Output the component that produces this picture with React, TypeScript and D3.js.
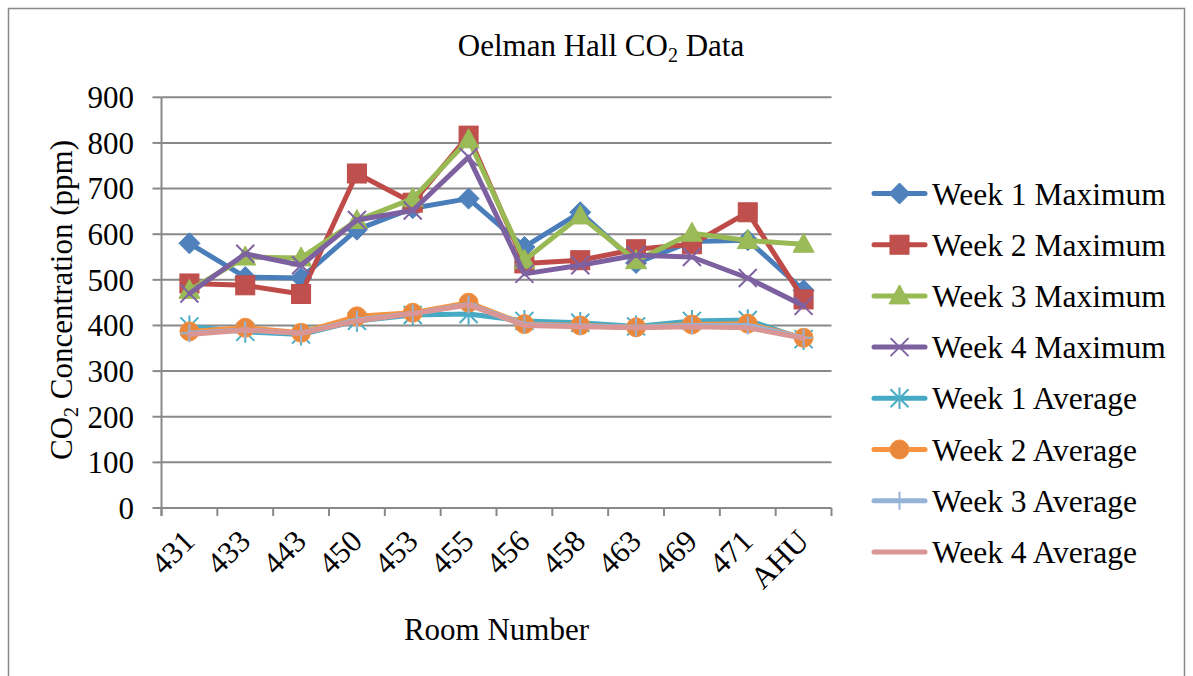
import { useEffect, useRef } from "react";
import * as d3 from "d3";

const rooms = ["431", "433", "443", "450", "453", "455", "456", "458", "463", "469", "471", "AHU"];
const yTicks = [0, 100, 200, 300, 400, 500, 600, 700, 800, 900];

const week1Max = [580, 506, 504, 610, 657, 678, 572, 648, 537, 584, 587, 477];
const week2Max = [492, 488, 469, 733, 669, 816, 536, 543, 567, 578, 648, 457];
const week3Max = [477, 550, 548, 630, 678, 807, 543, 640, 542, 602, 586, 578];
const week4Max = [470, 557, 532, 631, 652, 769, 513, 532, 554, 550, 504, 443];
const week1Avg = [398, 386, 380, 410, 423, 425, 410, 406, 398, 410, 412, 370];
const week2Avg = [387, 395, 384, 420, 428, 450, 403, 400, 396, 402, 404, 373];
const week3Avg = [383, 390, 383, 412, 426, 446, 402, 399, 396, 400, 400, 373];
const week4Avg = [380, 390, 383, 410, 426, 445, 400, 397, 395, 397, 395, 372];

type Marker = "diamond" | "square" | "triangle" | "x" | "star" | "circle" | "plus" | "none";

const series: { name: string; values: number[]; line: string; fill: string; marker: Marker }[] = [
  { name: "Week 1 Maximum", values: week1Max, line: "#4A7EBB", fill: "#4F81BD", marker: "diamond" },
  { name: "Week 2 Maximum", values: week2Max, line: "#BE4B48", fill: "#C0504D", marker: "square" },
  { name: "Week 3 Maximum", values: week3Max, line: "#98B954", fill: "#9BBB59", marker: "triangle" },
  { name: "Week 4 Maximum", values: week4Max, line: "#7D60A0", fill: "#8064A2", marker: "x" },
  { name: "Week 1 Average", values: week1Avg, line: "#46AAC5", fill: "#4BACC6", marker: "star" },
  { name: "Week 2 Average", values: week2Avg, line: "#F69240", fill: "#E9883C", marker: "circle" },
  { name: "Week 3 Average", values: week3Avg, line: "#95B3D7", fill: "#95B3D7", marker: "plus" },
  { name: "Week 4 Average", values: week4Avg, line: "#D99694", fill: "#D99694", marker: "none" },
];

const FONT = "'Liberation Serif', 'Times New Roman', serif";
const GRID = "#898989";

function drawMarker(g: any, kind: Marker, x: number, y: number, line: string, fill: string) {
  if (kind === "diamond") {
    const r = 10.5;
    g.append("path")
      .attr("d", `M${x},${y - r}L${x + r},${y}L${x},${y + r}L${x - r},${y}Z`)
      .attr("fill", fill).attr("stroke", line).attr("stroke-width", 1);
  } else if (kind === "square") {
    const s = 9.5;
    g.append("rect").attr("x", x - s).attr("y", y - s).attr("width", s * 2).attr("height", s * 2)
      .attr("fill", fill).attr("stroke", line).attr("stroke-width", 1);
  } else if (kind === "triangle") {
    g.append("path")
      .attr("d", `M${x},${y - 11}L${x + 10.5},${y + 8}L${x - 10.5},${y + 8}Z`)
      .attr("fill", fill).attr("stroke", line).attr("stroke-width", 1);
  } else if (kind === "circle") {
    g.append("circle").attr("cx", x).attr("cy", y).attr("r", 9.5)
      .attr("fill", fill).attr("stroke", line).attr("stroke-width", 1);
  } else if (kind === "x") {
    const r = 9;
    g.append("path")
      .attr("d", `M${x - r},${y - r}L${x + r},${y + r}M${x - r},${y + r}L${x + r},${y - r}`)
      .attr("stroke", fill).attr("stroke-width", 2).attr("fill", "none");
  } else if (kind === "star") {
    const r = 9;
    g.append("path")
      .attr("d", `M${x - r},${y - r}L${x + r},${y + r}M${x - r},${y + r}L${x + r},${y - r}M${x},${y - r * 1.2}L${x},${y + r * 1.2}`)
      .attr("stroke", fill).attr("stroke-width", 2).attr("fill", "none");
  } else if (kind === "plus") {
    const r = 9;
    g.append("path")
      .attr("d", `M${x - r},${y}L${x + r},${y}M${x},${y - r}L${x},${y + r}`)
      .attr("stroke", fill).attr("stroke-width", 2).attr("fill", "none");
  }
}

export default function App() {
  const svgRef = useRef<SVGSVGElement>(null);

  useEffect(() => {
    const svg = d3.select(svgRef.current);
    svg.selectAll("*").remove();

    const left = 161.5, right = 831.5, top = 97.3, bottom = 508;

    const x = d3.scaleBand().domain(rooms).range([left, right]).padding(0);
    const cx = (r: string) => (x(r) as number) + x.bandwidth() / 2;
    const y = d3.scaleLinear().domain([0, 900]).range([bottom, top]);

    svg.append("rect").attr("x", 8.5).attr("y", 8.5).attr("width", 1176).attr("height", 720)
      .attr("fill", "#fff").attr("stroke", GRID).attr("stroke-width", 1.5);

    // title
    const title = svg.append("text").attr("x", 601).attr("y", 56).attr("text-anchor", "middle")
      .attr("font-family", FONT).attr("font-size", 31).attr("fill", "#000");
    title.append("tspan").text("Oelman Hall CO");
    title.append("tspan").attr("font-size", 20).attr("dy", 6).text("2");
    title.append("tspan").attr("dy", -6).text(" Data");

    // gridlines
    svg.append("g").selectAll("line").data(yTicks.filter((t) => t > 0)).join("line")
      .attr("x1", left).attr("x2", right).attr("y1", (d) => y(d)).attr("y2", (d) => y(d))
      .attr("stroke", GRID).attr("stroke-width", 2);

    // axes
    svg.append("line").attr("x1", left).attr("x2", left).attr("y1", top).attr("y2", bottom + 8)
      .attr("stroke", GRID).attr("stroke-width", 2);
    svg.append("line").attr("x1", left - 8).attr("x2", right).attr("y1", bottom).attr("y2", bottom)
      .attr("stroke", GRID).attr("stroke-width", 2);
    svg.append("g").selectAll("line").data(yTicks).join("line")
      .attr("x1", left - 9).attr("x2", left).attr("y1", (d) => y(d)).attr("y2", (d) => y(d))
      .attr("stroke", GRID).attr("stroke-width", 2);
    const bounds = rooms.map((r) => x(r) as number).concat([right]);
    svg.append("g").selectAll("line").data(bounds).join("line")
      .attr("x1", (d) => d).attr("x2", (d) => d).attr("y1", bottom).attr("y2", bottom + 8)
      .attr("stroke", GRID).attr("stroke-width", 2);

    // y tick labels
    svg.append("g").selectAll("text").data(yTicks).join("text")
      .attr("x", 134).attr("y", (d) => y(d)).attr("dy", "0.35em").attr("text-anchor", "end")
      .attr("font-family", FONT).attr("font-size", 31).attr("fill", "#000")
      .text((d) => d);

    // x tick labels
    svg.append("g").selectAll("text").data(rooms).join("text")
      .attr("transform", (d) => `translate(${cx(d) + 7},${543}) rotate(-45)`)
      .attr("text-anchor", "end")
      .attr("font-family", FONT).attr("font-size", 31).attr("fill", "#000")
      .text((d) => d);

    // axis titles
    svg.append("text").attr("x", (left + right) / 2).attr("y", 640).attr("text-anchor", "middle")
      .attr("font-family", FONT).attr("font-size", 31).attr("fill", "#000").text("Room Number");
    const yt = svg.append("text").attr("transform", `translate(72,300) rotate(-90)`).attr("text-anchor", "middle")
      .attr("font-family", FONT).attr("font-size", 31).attr("fill", "#000");
    yt.append("tspan").text("CO");
    yt.append("tspan").attr("font-size", 20).attr("dy", 6).text("2");
    yt.append("tspan").attr("dy", -6).text(" Concentration (ppm)");

    // series
    const lineGen = d3.line<number>().x((_, i) => cx(rooms[i])).y((d) => y(d));
    series.forEach((s) => {
      const g = svg.append("g");
      g.append("path").attr("d", lineGen(s.values)).attr("fill", "none").attr("stroke", s.line)
        .attr("stroke-width", 5).attr("stroke-linejoin", "round").attr("stroke-linecap", "round");
      s.values.forEach((v, i) => drawMarker(g, s.marker, cx(rooms[i]), y(v), s.line, s.fill));
    });

    // legend
    const legend = svg.append("g");
    series.forEach((s, i) => {
      const ly = 193.5 + i * 51.2;
      const g = legend.append("g");
      g.append("line").attr("x1", 874).attr("x2", 925).attr("y1", ly).attr("y2", ly)
        .attr("stroke", s.line).attr("stroke-width", 5).attr("stroke-linecap", "round");
      drawMarker(g, s.marker, 899.5, ly, s.line, s.fill);
      g.append("text").attr("x", 932).attr("y", ly).attr("dy", "0.35em")
        .attr("font-family", FONT).attr("font-size", 31.5).attr("fill", "#000").text(s.name);
    });
  }, []);

  return <svg ref={svgRef} width={1193} height={676} style={{ position: "absolute", left: 0, top: 0 }} />;
}
